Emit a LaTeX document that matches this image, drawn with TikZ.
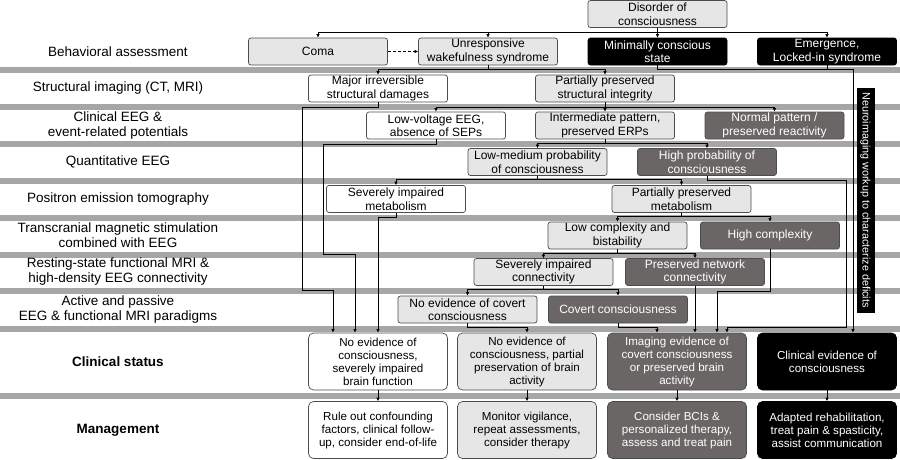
\documentclass[tikz,border=0pt]{standalone}
\usepackage{fontspec}
\setmainfont{Liberation Sans}
\usepackage{tikz}
\usetikzlibrary{arrows.meta,positioning,calc}
\usepackage{xcolor}
\definecolor{boxlight}{HTML}{E6E6E6}
\definecolor{boxdark}{HTML}{6B6666}
\definecolor{bandgray}{HTML}{A6A6A6}

\begin{document}
\begin{tikzpicture}[
    x=1pt, y=-1pt,
    box/.style={rectangle, rounded corners=2.5pt, draw=black!70, line width=0.7pt, minimum width=139pt, minimum height=27pt, inner sep=1pt, align=center, font=\fontsize{12}{13.5}\selectfont},
    whitebox/.style={box, fill=white},
    lightbox/.style={box, fill=boxlight},
    darkbox/.style={box, fill=boxdark, text=white},
    blackbox/.style={box, fill=black, draw=black, text=white},
    statusbox/.style={minimum height=57pt, rounded corners=5pt, font=\fontsize{11.6}{13}\selectfont},
    rowlabel/.style={align=center, font=\fontsize{13.5}{15}\selectfont},
    band/.style={fill=bandgray},
    arrow/.style={-{Latex[length=3.5pt,width=3.5pt]}, line width=0.9pt}
]
\useasboundingbox (0,0) rectangle (900,459);
\fill[white] (0,0) rectangle (900,459);
\foreach \y in {67,104,141,178,215,252,288,326,393}
    \fill[band] (0,\y) rectangle (900,\y+6);

% row labels
\node[rowlabel] (l0) at (118,51.5) {Behavioral assessment};
\node[rowlabel] (l1) at (118,88.5) {Structural imaging (CT, MRI)};
\node[rowlabel] (l2) at (118,125.5) {Clinical EEG \&\\event-related potentials};
\node[rowlabel] (l3) at (118,162) {Quantitative EEG};
\node[rowlabel] (l4) at (118,199) {Positron emission tomography};
\node[rowlabel] (l5) at (118,235.5) {Transcranial magnetic stimulation\\combined with EEG};
\node[rowlabel] (l6) at (118,272) {Resting-state functional MRI \&\\high-density EEG connectivity};
\node[rowlabel] (l7) at (118,310) {Active and passive\\EEG \& functional MRI paradigms};
\node[rowlabel, font=\fontsize{13.5}{15}\selectfont\bfseries] (l8) at (118,362) {Clinical status};
\node[rowlabel, font=\fontsize{13.5}{15}\selectfont\bfseries] (l9) at (118,430) {Management};

% behavioral
\node[lightbox] (doc) at (657.5,14) {Disorder of\\consciousness};
\node[lightbox] (coma) at (318,51.5) {Coma};
\node[lightbox] (uws) at (488,51.5) {Unresponsive\\wakefulness syndrome};
\node[blackbox] (mcs) at (657.5,51.5) {Minimally conscious\\state};
\node[blackbox] (emerg) at (827,51.5) {Emergence,\\Locked-in syndrome};

% workup
\node[whitebox] (majdam) at (378,88.5) {Major irreversible\\structural damages};
\node[lightbox] (ppsi) at (605,88.5) {Partially preserved\\structural integrity};
\node[whitebox] (lowv) at (436,125.5) {Low-voltage EEG,\\absence of SEPs};
\node[lightbox] (interm) at (605,125.5) {Intermediate pattern,\\preserved ERPs};
\node[darkbox] (normal) at (774.5,125.5) {Normal pattern /\\preserved reactivity};
\node[lightbox] (lowmed) at (537.5,162) {Low-medium probability\\of consciousness};
\node[darkbox] (highprob) at (707,162) {High probability of\\consciousness};
\node[whitebox] (sevmet) at (396,199) {Severely impaired\\metabolism};
\node[lightbox] (ppmet) at (681.5,199) {Partially preserved\\metabolism};
\node[lightbox] (lowcx) at (617.5,235.5) {Low complexity and\\bistability};
\node[darkbox] (highcx) at (770,235.5) {High complexity};
\node[lightbox] (sevcon) at (543.5,272) {Severely impaired\\connectivity};
\node[darkbox] (prescon) at (695,272) {Preserved network\\connectivity};
\node[lightbox] (nocov) at (467.5,309.5) {No evidence of covert\\consciousness};
\node[darkbox] (covert) at (618,309.5) {Covert consciousness};
\node[blackbox, rotate=-90, minimum width=224pt, minimum height=17pt, rounded corners=0pt, font=\fontsize{10.8}{12}\selectfont] (workup) at (865.5,200) {Neuroimaging workup to characterize deficits};

% status and management
\node[whitebox, statusbox] (st1) at (378,361.5) {No evidence of\\consciousness,\\severely impaired\\brain function};
\node[lightbox, statusbox] (st2) at (527,361.5) {No evidence of\\consciousness, partial\\preservation of brain\\activity};
\node[darkbox, statusbox] (st3) at (677,361.5) {Imaging evidence of\\covert consciousness\\or preserved brain\\activity};
\node[blackbox, statusbox] (st4) at (827,361.5) {Clinical evidence of\\consciousness};
\node[whitebox, statusbox] (mg1) at (378,430) {Rule out confounding\\factors, clinical follow-\\up, consider end-of-life};
\node[lightbox, statusbox] (mg2) at (527,430) {Monitor vigilance,\\repeat assessments,\\consider therapy};
\node[darkbox, statusbox] (mg3) at (677,430) {Consider BCIs \&\\personalized therapy,\\assess and treat pain};
\node[blackbox, statusbox] (mg4) at (827,430) {Adapted rehabilitation,\\treat pain \& spasticity,\\assist communication};

\foreach \c in {coma,uws,mcs,emerg}
    \draw[arrow] (doc.south) -- ++(0,5) -| (\c.north);
\draw[arrow, dashed, dash pattern=on 3pt off 2pt] (coma.east) -- (uws.west);
\foreach \c in {majdam,ppsi}
    \draw[arrow] (uws.south) -- ++(0,4) -| (\c.north);
\draw[arrow] (mcs.south) -- ++(0,4) -| ([xshift=26pt]st4.north);
\draw[line width=0.9pt] (emerg.south) -- ++(0,4);
\foreach \c in {lowv,interm,normal}
    \draw[arrow] (ppsi.south) -- ++(0,5) -| (\c.north);
\foreach \c in {lowmed,highprob}
    \draw[arrow] (interm.south) -- ++(0,4) -| (\c.north);
\foreach \c in {sevmet,ppmet}
    \draw[arrow] (lowmed.south) -- ++(0,4) -| (\c.north);
\foreach \c in {lowcx,highcx}
    \draw[arrow] (ppmet.south) -- ++(0,4) -| (\c.north);
\foreach \c in {sevcon,prescon}
    \draw[arrow] (lowcx.south) -- ++(0,4.5) -| (\c.north);
\foreach \c in {nocov,covert}
    \draw[arrow] (sevcon.south) -- ++(0,4) -| (\c.north);

\draw[arrow] (majdam.south) |- (302,107) |- (333,290) -- ([xshift=-45pt]st1.north);
\draw[arrow] (lowv.south) |- (323,144) |- (355,254) -- ([xshift=-23pt]st1.north);
\draw[arrow] (sevmet.south) |- (378,217) -- (st1.north);
\draw[arrow] (nocov.south) -- ++(0,4) -| (st2.north);
\draw[arrow] (covert.south) -- ++(0,4) -| ([xshift=-20pt]st3.north);
\draw[arrow] (prescon.south) -- ([xshift=18pt]st3.north);
\draw[arrow] (highcx.south) |- (717,291) -- ([xshift=40pt]st3.north);
\draw[arrow] (highprob.south) |- (846,180) |- (727,327) -- ([xshift=50pt]st3.north);

\draw[arrow] (st1) -- (mg1);
\draw[arrow] (st2) -- (mg2);
\draw[arrow] (st3) -- (mg3);
\draw[arrow] (st4) -- (mg4);
\end{tikzpicture}
\end{document}
